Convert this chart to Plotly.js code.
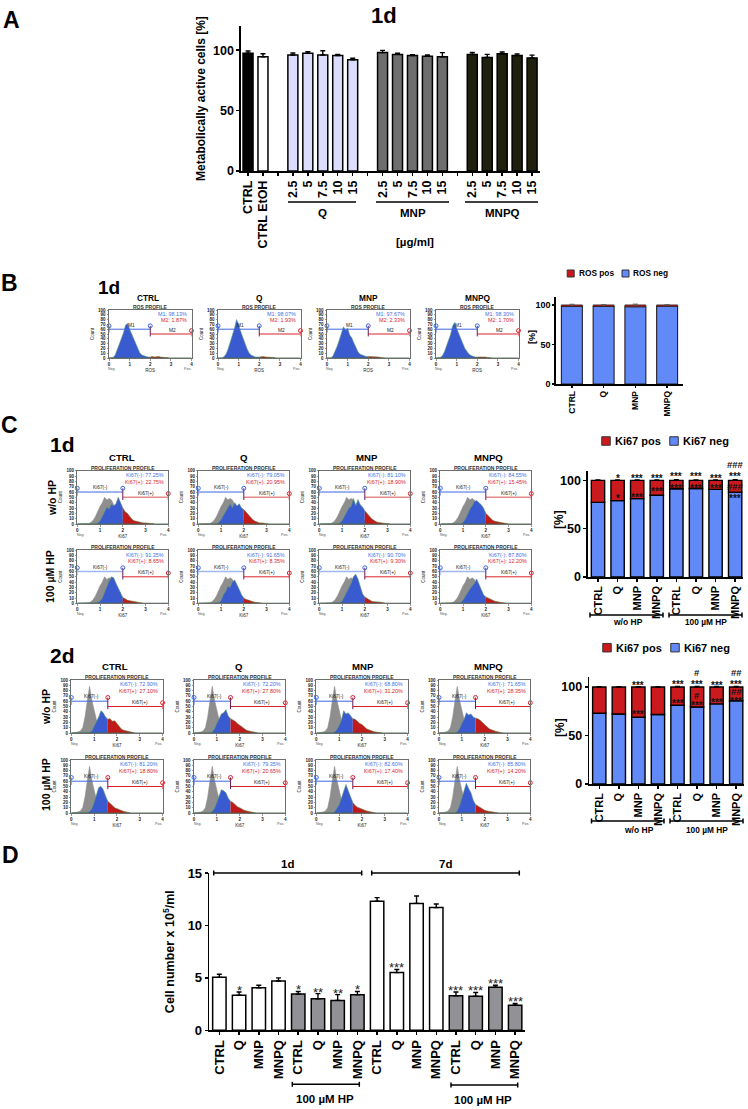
<!DOCTYPE html>
<html><head><meta charset="utf-8">
<script src="https://cdn.plot.ly/plotly-3.0.1.min.js"></script>
<style>html,body{margin:0;padding:0;background:#fff}#c{width:748px;height:1109px}</style>
</head><body><div id="c"></div>
<script>
/* ---------- data ---------- */
const aLabels=['CTRL','CTRL EtOH','\u00a0','2.5','5','7.5','10','15','\u00a0','2.5','5','7.5','10','15','\u00a0','2.5','5','7.5','10','15'];
const aValues=[97.5,94.5,null,96,97.5,96,95.5,92,null,98,96.5,95.5,95,94.5,null,96.5,94,97,95.5,93.5];
const aErrors=[1.8,2.5,null,1.6,1.3,3.5,1,1.3,null,1.8,1,0.8,1,3.5,null,1.6,2.5,1.5,1.3,2.4];
const aColors=['#000000','#ffffff','#fff','#dcdcff','#dcdcff','#dcdcff','#dcdcff','#dcdcff','#fff','#6e6e6e','#6e6e6e','#6e6e6e','#6e6e6e','#6e6e6e','#fff','#20200f','#20200f','#20200f','#20200f','#20200f'];

const treatments=['CTRL','Q','MNP','MNPQ'];
const rosPos=[1.87,1.93,2.33,1.70];
const rosNeg=[98.13,98.07,97.67,98.30];

const ki8Labels=['CTRL','Q','MNP','MNPQ','CTRL','Q','MNP','MNPQ'];
const ki1dNeg=[77.25,79.05,81.10,84.55,91.35,91.65,90.70,87.80];
const ki1dPos=[22.75,20.95,18.90,15.45,8.65,8.35,9.30,12.20];
const ki2dNeg=[72.90,72.20,68.80,71.65,81.20,79.35,82.60,85.80];
const ki2dPos=[27.10,27.80,31.20,28.35,18.80,20.65,17.40,14.20];

const dLabels=['CTRL','Q','MNP','MNPQ','CTRL','Q','MNP','MNPQ','CTRL','Q','MNP','MNPQ','CTRL','Q','MNP','MNPQ'];
const dValues=[5.05,3.35,4.05,4.7,3.45,3.0,2.85,3.4,12.3,5.5,12.1,11.7,3.3,3.25,4.1,2.4];
const dErrors=[0.3,0.3,0.25,0.3,0.25,0.5,0.55,0.3,0.35,0.3,0.7,0.35,0.35,0.35,0.2,0.15];
const dStars=['','*','','','*','**','**','*','','***','','','***','***','***','***'];
const dFills=['#fff','#fff','#fff','#fff','#929296','#929296','#929296','#929296','#fff','#fff','#fff','#fff','#929296','#929296','#929296','#929296'];

/* histogram counts, one value for each 0.1 step of the axis, starting at 0 */
const histStep=0.1;
const rosCtrl=[0,0,1,6,17,27,39,52,68,72,60,50,38,27,18,10,6,4,3,2,2,3,2,3,3,2,1,1,1,0];
const rosQ=[0,0,0,3,9,20,33,48,62,80,70,55,42,30,20,11,6,4,2,2,2,3,3,2,2,1,1,1,0];
const rosMnp=[0,0,0,5,14,25,38,50,65,58,62,48,42,32,22,13,8,6,4,3,3,3,3,3,2,2,1,1,0];
const rosMnpq=[0,0,1,4,12,24,36,48,66,74,62,50,40,30,20,13,8,5,3,2,2,2,3,2,2,1,1,0];

const gray1d=[0,0,0,0,0,1,3,7,14,25,33,40,50,45,48,45,35,28,18,10,6,3,2,0];
const gray2d=[0,0,1,2,4,10,30,60,88,62,42,25,14,8,4,2,1,0];

const k1Ctrl=[0,0,0,0,0,0,0,0,0,2,6,14,24,32,28,37,34,38,50,40,30,23,20,14,9,6,5,3,3,2,2,1,1,1,0];
const k1Q=[0,0,0,0,0,0,0,0,0,3,8,16,24,30,38,30,40,34,38,30,27,22,17,12,8,5,3,2,2,1,1,0];
const k1Mnp=[0,0,0,0,0,0,0,0,0,2,6,14,22,30,33,48,34,46,36,32,25,20,14,10,7,4,3,2,2,1,1,0];
const k1Mnpq=[0,0,0,0,0,0,0,0,0,0,3,9,18,28,34,42,44,40,36,30,20,15,11,7,5,4,3,2,1,1,0];
const k1hCtrl=[0,0,0,0,0,0,0,1,1,2,4,10,22,34,42,50,48,38,28,18,11,8,6,5,4,3,2,1,1,0];
const k1hQ=[0,0,0,0,0,0,0,0,0,1,5,16,22,32,30,40,44,36,26,16,10,7,6,4,3,2,2,1,0];
const k1hMnp=[0,0,0,0,0,0,0,0,0,1,4,12,22,30,38,50,55,46,30,18,12,9,6,4,3,3,2,2,1,0];
const k1hMnpq=[0,0,0,0,0,0,0,0,0,1,6,14,20,27,32,38,46,36,24,16,12,10,7,5,4,3,2,2,1,0];

const k2Ctrl=[0,0,0,0,0,0,0,0,1,4,12,20,30,42,38,30,26,27,22,23,18,12,7,5,4,3,2,1,0];
const k2Q=[0,0,0,0,0,0,0,0,2,8,18,28,36,38,44,32,27,25,22,18,15,11,8,5,4,3,2,1,0];
const k2Mnp=[0,0,0,0,0,0,0,0,2,6,14,24,42,36,38,32,27,26,22,18,16,12,8,6,4,3,2,1,1,0];
const k2Mnpq=[0,0,0,0,0,0,0,0,2,8,18,26,38,34,36,30,28,27,24,20,17,12,8,6,4,3,2,1,0];
const k2hCtrl=[0,0,0,0,0,0,0,1,3,8,20,36,48,50,44,32,22,17,14,10,8,6,4,3,2,1,0];
const k2hQ=[0,0,0,0,0,0,0,0,3,9,20,34,44,42,38,28,22,20,16,12,10,7,5,4,3,2,1,0];
const k2hMnp=[0,0,0,0,0,0,0,0,2,8,16,28,40,54,42,32,20,14,11,9,7,5,4,3,2,1,0];
const k2hMnpq=[0,0,0,0,0,0,0,0,4,14,28,42,56,46,38,24,16,13,10,7,5,4,3,2,2,1,0];

const rosGate=2, ki1dGate=2, ki2dGate=1.6, axisEnd=4;
const levelNeg=60, levelPos=50, circleNeg=67, circlePos=57, tickTop=67, tickLow=45;

/* ---------- helpers ---------- */
const W=748,H=1109,FONT='Liberation Sans, Arial, sans-serif';
const X=p=>p/W, Y=p=>1-p/H;
const data=[],shapes=[],annotations=[];
const layout={width:W,height:H,margin:{l:0,r:0,t:0,b:0},paper_bgcolor:'#fff',plot_bgcolor:'rgba(0,0,0,0)',
  showlegend:false,bargap:0,barmode:'overlay',shapes,annotations,font:{family:FONT,color:'#000'}};
let nAx=0;
function axes(l,r,t,b,xc,yc){nAx++;const s=nAx===1?'':nAx;
  layout['xaxis'+s]=Object.assign({domain:[X(l),X(r)],anchor:'y'+s,showgrid:false,zeroline:false},xc);
  layout['yaxis'+s]=Object.assign({domain:[Y(b),Y(t)],anchor:'x'+s,showgrid:false,zeroline:false},yc);
  return {x:'x'+s,y:'y'+s,l,r,t,b,xr:xc.range,yr:yc.range};}
function txt(px,py,text,size,opt={}){annotations.push(Object.assign({xref:'paper',yref:'paper',x:X(px),y:Y(py),text,showarrow:false,
  xanchor:'center',yanchor:'middle',font:{family:FONT,size,color:'#000'}},opt));}
function bold(px,py,text,size,opt){txt(px,py,'<b>'+text+'</b>',size,opt);}
function seg(x0,y0,x1,y1,c='#000',w=1.5){shapes.push({type:'line',xref:'paper',yref:'paper',x0:X(x0),x1:X(x1),y0:Y(y0),y1:Y(y1),line:{color:c,width:w}});}
function bracket(x0,x1,y){seg(x0,y,x1,y);seg(x0,y-2.5,x0,y+2.5);seg(x1,y-2.5,x1,y+2.5);}
function barAx(size,len=3){return {showline:true,linewidth:1.6,linecolor:'#000',ticks:'outside',ticklen:len,tickwidth:1.5,tickcolor:'#000',
  tickfont:{family:FONT,size,weight:700,color:'#000'}};}
function errs(a,c='#000',th=1.4){return {type:'data',symmetric:false,array:a,arrayminus:a.map(()=>0),color:c,thickness:th,width:2.5,visible:true};}
function idx(a){return a.map((_,i)=>i+1);}
function sq(x,y,s,c){shapes.push({type:'rect',xref:'paper',yref:'paper',x0:X(x-s/2),x1:X(x+s/2),y0:Y(y+s/2),y1:Y(y-s/2),fillcolor:c,line:{color:'#333',width:1}});}

function hist(l,t,w,h,opts){
  const a=axes(l,l+w,t,t+h,
    {range:[0,4],dtick:1,showline:true,mirror:true,linecolor:'#6e6e6e',linewidth:1,ticks:'outside',ticklen:1.5,tickwidth:.5,tickcolor:'#333',
     tickfont:{family:FONT,size:4.5,color:'#222',weight:700},title:{text:opts.xname,font:{family:FONT,size:4.5,color:'#222'},standoff:2}},
    {range:[0,100],dtick:10,showline:true,mirror:true,linecolor:'#6e6e6e',linewidth:1,ticks:'outside',ticklen:1.5,tickwidth:.5,tickcolor:'#333',
     tickfont:{family:FONT,size:4.5,color:'#222',weight:700},title:{text:'Count',font:{family:FONT,size:4.5,color:'#222'},standoff:3}});
  const xs=v=>v.map((_,i)=>+(i*histStep).toFixed(2));
  const tr=(x,y,fill,line)=>data.push({type:'scatter',mode:'lines',x,y,xaxis:a.x,yaxis:a.y,fill:'tozeroy',fillcolor:fill,
     line:{color:line,width:.6},hoverinfo:'skip'});
  if(opts.gray) tr(xs(opts.gray),opts.gray,'#8e8e8e','#8e8e8e');
  const v=opts.sample,xv=xs(v),g=opts.gate,iG=Math.round(g/histStep);
  tr(xv.slice(0,iG+1),v.slice(0,iG+1),'#3a5bcf','#5c9a72');
  tr(xv.slice(iG),v.slice(iG),'#c01a1a','#5f7a3a');
  tr([0,4],[0.4,0.4],'rgba(0,0,0,0)','#3f6b45');
  const bc=opts.negLine||'#3d66e0',rc=opts.posLine||'#d9232c',bw=opts.negW||1,rw=opts.posW||1;
  data.push({type:'scatter',mode:'lines',xaxis:a.x,yaxis:a.y,hoverinfo:'skip',line:{color:bc,width:bw},
    x:[0,0,null,0,g],y:[tickTop,tickLow+8,null,levelNeg,levelNeg]});
  data.push({type:'scatter',mode:'lines',xaxis:a.x,yaxis:a.y,hoverinfo:'skip',line:{color:rc,width:rw},
    x:[g,axisEnd,null,axisEnd,axisEnd],y:[levelPos,levelPos,null,circlePos,tickLow]});
  data.push({type:'scatter',mode:'lines',xaxis:a.x,yaxis:a.y,hoverinfo:'skip',line:{color:'#6a1a5a',width:1},
    x:[g,g],y:[tickTop,tickLow]});
  data.push({type:'scatter',mode:'markers',xaxis:a.x,yaxis:a.y,hoverinfo:'skip',cliponaxis:false,
    x:[0,g],y:[circleNeg,circleNeg],marker:{symbol:'circle-open',size:4,color:[ '#3d66e0',opts.midRed?'#d9232c':'#3d66e0'],line:{width:1}}});
  data.push({type:'scatter',mode:'markers',xaxis:a.x,yaxis:a.y,hoverinfo:'skip',cliponaxis:false,
    x:[axisEnd],y:[circlePos],marker:{symbol:'circle-open',size:4,color:'#d9232c',line:{width:1}}});
  const at=(x,y,text,color,size,extra={})=>annotations.push(Object.assign({xref:a.x,yref:a.y,x,y,text,showarrow:false,xanchor:'center',yanchor:'middle',
      font:{family:FONT,size,color}},extra));
  at(3.9,92,opts.blue,'#3d6fe8',5.4,{xanchor:'right'});
  at(3.9,79,opts.red,'#d9232c',5.4,{xanchor:'right'});
  at(opts.negLabelX,68,opts.negLabel,'#222',4.8);
  at(opts.posLabelX,58,opts.posLabel,'#222',4.8);
  txt(l+w/2,t-3,'<b>'+opts.prof+'</b>',5,{font:{family:FONT,size:5,color:'#333'}});
  txt(l+w*0.04,t+h+11,'Neg.',3.6,{font:{family:FONT,size:3.6,color:'#555'}});
  txt(l+w*0.95,t+h+11,'Pos.',3.6,{font:{family:FONT,size:3.6,color:'#555'}});
}

/* ---------- panel A ---------- */
const A=axes(241,540,26,171,
  Object.assign(barAx(12.5),{range:[0.53,20.53],tickmode:'array',tickvals:idx(aLabels),ticktext:aLabels,tickangle:-90}),
  Object.assign(barAx(12.5),{range:[0,120],tickvals:[0,50,100],title:{text:'Metabolically active cells [%]',font:{family:FONT,size:12,weight:700,color:'#000'},standoff:5}}));
data.push({type:'bar',x:idx(aLabels),y:aValues,width:.67,xaxis:A.x,yaxis:A.y,marker:{color:aColors,line:{color:'#000',width:1.5}},error_y:errs(aErrors.map(v=>v===null?0:v))});
bold(11,20,'A',23); bold(384,15,'1d',22);
seg(288,202,356,202); seg(376,202,449,202); seg(465,202,538,202);
bold(322.7,212.5,'Q',11.5); bold(413,212.5,'MNP',11.5); bold(502,212.5,'MNPQ',11.5);
bold(415,242,'[µg/ml]',11.5);

/* ---------- panel B ---------- */
bold(9,283,'B',23); bold(109,287,'1d',19);
const rosSamples=[rosCtrl,rosQ,rosMnp,rosMnpq];
const rosTitleX=[147.7,259,368,477], rosLeft=[109,218,327,436];
treatments.forEach((t,i)=>{
  bold(rosTitleX[i],298,t,8.3);
  hist(rosLeft[i],310,82.5,48,{xname:'ROS',sample:rosSamples[i],gate:rosGate,prof:'ROS PROFILE',
    blue:'M1: '+rosNeg[i].toFixed(2)+'%',red:'M2: '+rosPos[i].toFixed(2)+'%',negLabel:'M1',posLabel:'M2',negLabelX:1.1,posLabelX:3.1});
});
const Br=axes(556,683,297,384,
  Object.assign(barAx(8.5,2),{range:[0.5,4.5],tickmode:'array',tickvals:idx(treatments),ticktext:treatments,tickangle:-90}),
  Object.assign(barAx(9,2),{range:[0,110],tickvals:[0,50,100]}));
data.push({type:'bar',x:idx(treatments),y:rosNeg,width:.66,xaxis:Br.x,yaxis:Br.y,marker:{color:'#6189f7',line:{color:'#222',width:1.1}}});
data.push({type:'bar',x:idx(treatments),y:rosPos,base:rosNeg,width:.66,xaxis:Br.x,yaxis:Br.y,marker:{color:'#c8181c',line:{color:'#222',width:.7}},error_y:errs([0.8,0.4,1,0.5],'#666',1)});
bold(532,337,'[%]',9,{textangle:-90});
sq(570.7,273.5,7,'#c8181c'); bold(596,273.5,'ROS pos',8.3);
sq(625.5,273.5,7,'#6189f7'); bold(650.5,273.5,'ROS neg',8.3);

/* ---------- panel C ---------- */
bold(9,425,'C',23); bold(62,445,'1d',21); bold(62,655,'2d',21);
const c1Left=[77.3,198.3,319.3,440.3], c2Left=[71.3,194,316.3,439];
const c1TitleX=[121.7,244,367,488], c2TitleX=[115,239,363,488];
const k1Top=[k1Ctrl,k1Q,k1Mnp,k1Mnpq], k1Hp=[k1hCtrl,k1hQ,k1hMnp,k1hMnpq], k2Top=[k2Ctrl,k2Q,k2Mnp,k2Mnpq], k2Hp=[k2hCtrl,k2hQ,k2hMnp,k2hMnpq];
function kiText(n,p){return {blue:'Ki67(-): '+n.toFixed(2)+'%',red:'Ki67(+): '+p.toFixed(2)+'%'};}
treatments.forEach((t,i)=>{
  bold(c1TitleX[i],457,t,9.6); bold(c2TitleX[i],666,t,9.6);
  const base={xname:'Ki67',prof:'PROLIFERATION PROFILE',negLabel:'Ki67(-)',posLabel:'Ki67(+)',negLabelX:1,posLabelX:3};
  hist(c1Left[i],470.7,91,53.3,Object.assign({},base,kiText(ki1dNeg[i],ki1dPos[i]),{gray:gray1d,sample:k1Top[i],gate:ki1dGate,posLine:'#e58a8a',posW:1.5}));
  hist(c1Left[i],550.3,91,53,Object.assign({},base,kiText(ki1dNeg[i+4],ki1dPos[i+4]),{gray:gray1d,sample:k1Hp[i],gate:ki1dGate,negLine:'#9fb6ee',negW:1.5}));
  hist(c2Left[i],680,91.3,53,Object.assign({},base,kiText(ki2dNeg[i],ki2dPos[i]),{gray:gray2d,sample:k2Top[i],gate:ki2dGate,midRed:true,negLabelX:.9}));
  hist(c2Left[i],760,91.3,53,Object.assign({},base,kiText(ki2dNeg[i+4],ki2dPos[i+4]),{gray:gray2d,sample:k2Hp[i],gate:ki2dGate,midRed:true,negLabelX:.9}));
});
const rot={textangle:-90};
bold(52,498,'w/o HP',10.5,rot); bold(50,577,'100 µM HP',10.5,rot);
bold(46,707,'w/o HP',10.5,rot); bold(46,785,'100 µM HP',10.5,rot);

function kiBars(l,r,t,b,neg,pos,errp,range){
  const a=axes(l,r,t,b,
    Object.assign(barAx(11),{range,tickmode:'array',tickvals:idx(ki8Labels),ticktext:ki8Labels,tickangle:-90}),
    Object.assign(barAx(12.5),{range:[0,110],tickvals:[0,50,100]}));
  data.push({type:'bar',x:idx(ki8Labels),y:neg,width:.68,xaxis:a.x,yaxis:a.y,marker:{color:'#6189f7',line:{color:'#000',width:1.4}}});
  data.push({type:'bar',x:idx(ki8Labels),y:pos,base:neg,width:.68,xaxis:a.x,yaxis:a.y,marker:{color:'#cb1a1e',line:{color:'#000',width:1.4}},error_y:errs(errp)});
  return a;
}
const C1=kiBars(588,743,470.7,577,ki1dNeg,ki1dPos,[0.4,0.3,0.4,0.5,0.6,0.4,0.5,0.6],[0.49,8.4]);
const C2=kiBars(589.3,744,677.3,784,ki2dNeg,ki2dPos,[0.4,0.3,0.4,0.4,0.6,0.5,0.6,0.6],[0.49,8.4]);
bold(559,520,'[%]',12,rot); bold(560,728,'[%]',12,rot);
function mark(a,list){list.forEach(([x,y,t])=>{
  const px=a.l+(a.r-a.l)*(x-a.xr[0])/(a.xr[1]-a.xr[0]), py=a.b-(a.b-a.t)*y/a.yr[1];
  bold(px,py,t,t[0]==='#'?9.5:10,{font:{family:FONT,size:t[0]==='#'?9.5:10,color:'#111'}});});}
mark(C1,[[2,102,'*'],[3,102,'***'],[4,102,'***'],[5,104,'***'],[6,104,'***'],[7,102,'***'],[8,104,'***'],[8,116,'###'],
  [2,81,'*'],[3,82,'***'],[4,88,'***'],[5,92,'***'],[6,92,'***'],[7,92,'***'],[8,81,'***'],[8,94,'###']]);
mark(C2,[[3,102,'***'],[5,103,'***'],[6,103,'***'],[7,102,'***'],[8,103,'***'],[6,115,'#'],[8,115,'##'],
  [3,72,'***'],[5,83,'***'],[6,81,'***'],[7,84,'***'],[8,85,'***'],[6,91,'#'],[8,95.5,'##']]);
sq(606,441,8.5,'#cb1a1e'); bold(638,441,'Ki67 pos',11); sq(674,441,8.5,'#6189f7'); bold(706,441,'Ki67 neg',11);
sq(607,647.7,8.5,'#cb1a1e'); bold(639,647.7,'Ki67 pos',11); sq(675,647.7,8.5,'#6189f7'); bold(707,647.7,'Ki67 neg',11);
bracket(590,663,615); bracket(669,742,615);
bold(628,622.5,'w/o HP',8.5); bold(706,622.5,'100 µM HP',8.3);
bracket(591.5,664,821); bracket(670,743,821);
bold(639,830,'w/o HP',8.5); bold(707,830,'100 µM HP',8.3);

/* ---------- panel D ---------- */
bold(10,855,'D',23);
const D=axes(209.3,525,873,1030.3,
  Object.assign(barAx(13),{range:[0.49,16.5],tickmode:'array',tickvals:idx(dLabels),ticktext:dLabels,tickangle:-90}),
  Object.assign(barAx(13),{range:[0,15],tickvals:[0,5,10,15],title:{text:'Cell number x 10<sup>5</sup>/ml',font:{family:FONT,size:12.5,weight:700,color:'#000'},standoff:10}}));
data.push({type:'bar',x:idx(dLabels),y:dValues,width:.68,xaxis:D.x,yaxis:D.y,marker:{color:dFills,line:{color:'#000',width:1.5}},error_y:errs(dErrors)});
dStars.forEach((s,i)=>{if(s)annotations.push({xref:D.x,yref:D.y,x:i+1,y:dValues[i]+dErrors[i]+0.15,text:s,showarrow:false,xanchor:'center',yanchor:'middle',font:{family:FONT,size:13,color:'#222'}});});
bracket(213.7,361.7,873); bracket(371.7,519.3,873);
bold(287.7,864,'1d',11.5); bold(445,864,'7d',11.5);
bracket(292.3,359.3,1084.3); bracket(451,517.7,1085);
bold(325,1099,'100 µM HP',11.5); bold(483.3,1100,'100 µM HP',11.5);

Plotly.newPlot('c',data,layout,{staticPlot:true,displayModeBar:false});
</script></body></html>
